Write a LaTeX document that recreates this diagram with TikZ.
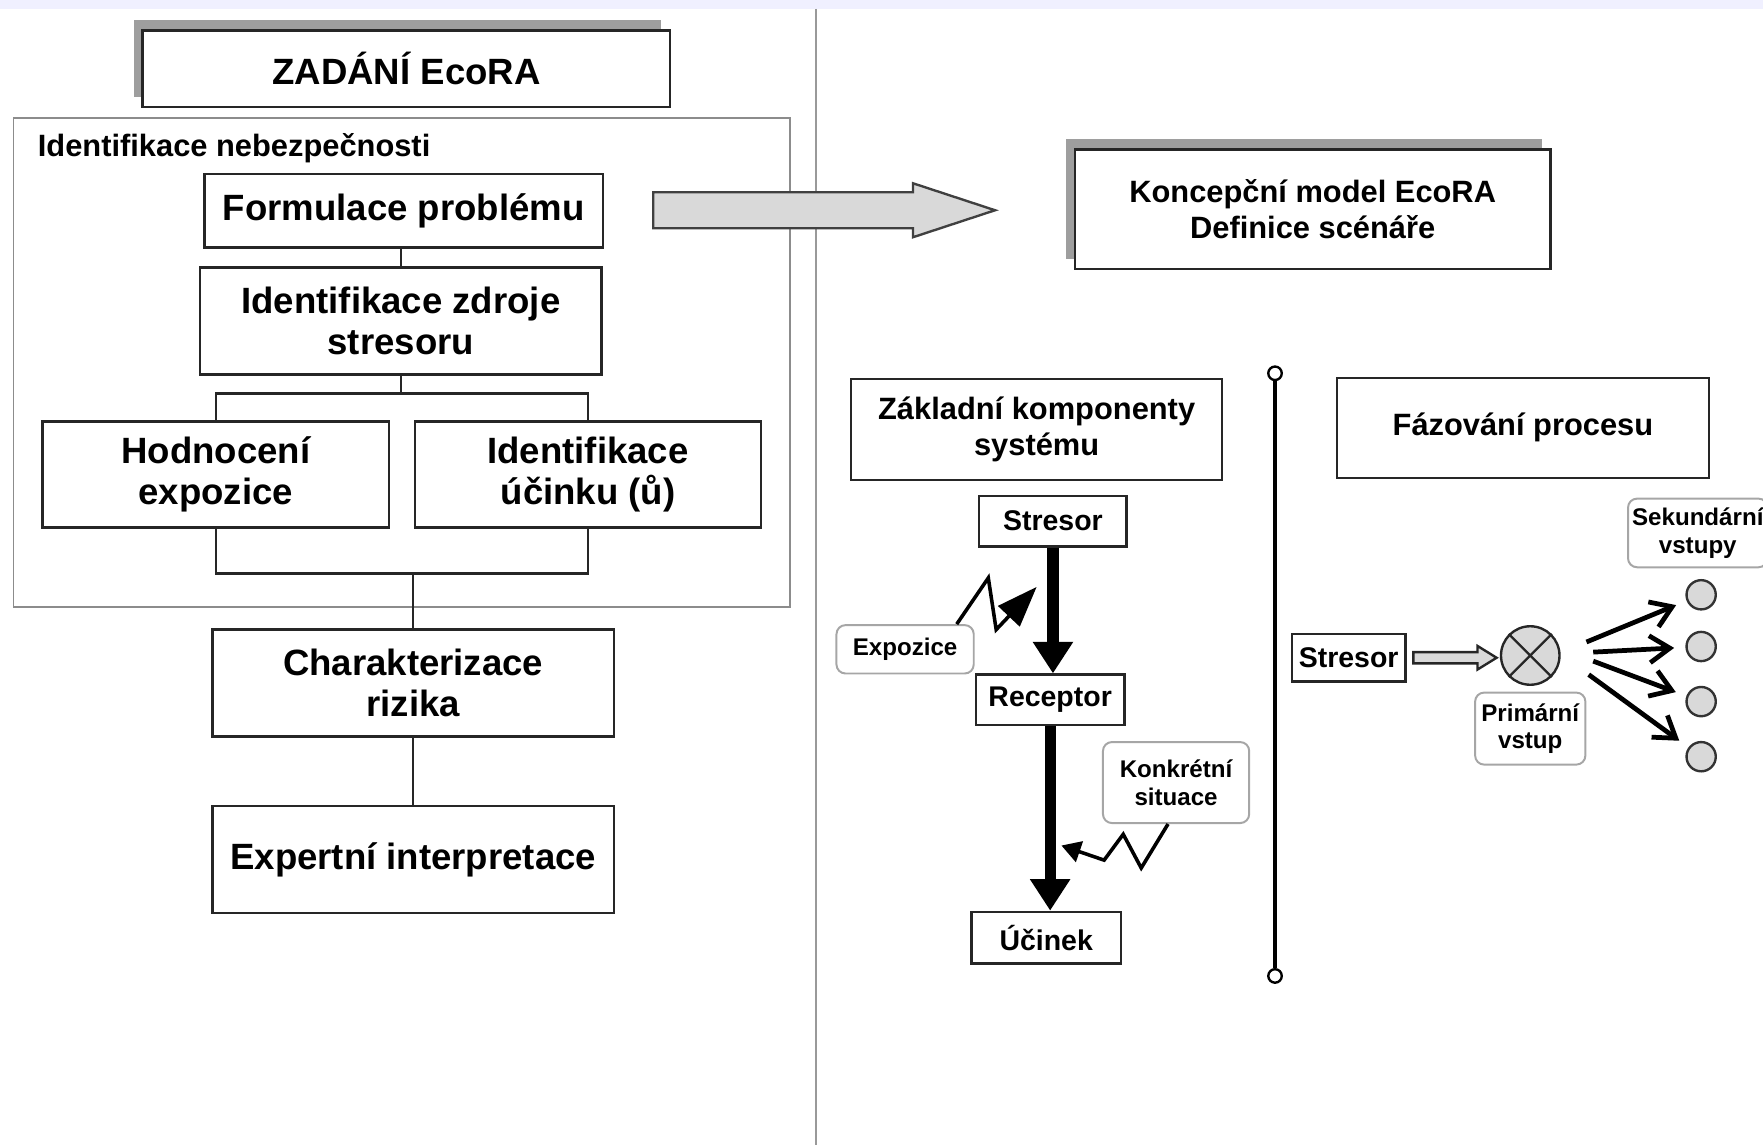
\documentclass[tikz,border=0pt]{standalone}
\usepackage{fontspec}
\setmainfont{Liberation Sans}
\usetikzlibrary{positioning, shadows, arrows.meta}

\begin{document}
\begin{tikzpicture}[x=0.01cm,y=-0.01cm,
		box/.style = {draw=black!85, line width=0.6pt, fill=white, inner sep=0pt, align=center,
			font=\fontsize{9.25}{10.5}\selectfont\bfseries},
		midbox/.style = {box, font=\fontsize{7.8}{9.1}\selectfont\bfseries},
		smallbox/.style = {box, font=\fontsize{7.2}{8.4}\selectfont\bfseries},
		shadowbox/.style = {drop shadow={shadow xshift=-0.08cm, shadow yshift=0.09cm, fill=black!38, opacity=1}},
		callout/.style = {draw=black!35, line width=0.5pt, rounded corners=0.08cm, fill=white, inner sep=0pt,
			align=center, font=\fontsize{6.1}{7.0}\selectfont\bfseries},
		flow/.style = {black!85, line width=0.6pt},
		bigflow/.style = {line width=0.1cm, -{Triangle[length=0.28cm,width=0.34cm]}},
		zig/.style = {line width=0.9pt},
		fan/.style = {line width=1.2pt, shorten >=0.1cm, -{Straight Barb[length=0.18cm,width=0.24cm]}},
		dot/.style = {circle, draw=black!80, line width=0.6pt, fill=black!15, minimum size=0.26cm, inner sep=0pt}]
	\useasboundingbox (0,0) rectangle (1568,1018);
	\clip (0,0) rectangle (1568,1018);
	% pale slide header and dividing line
	\fill[blue!6] (0,0) rectangle (1568,8);
	\draw[black!40, line width=0.5pt] (726,8) -- (726,1018);

	% left panel
	\node [box, shadowbox, minimum width=4.69cm, minimum height=0.68cm] (zadani) at (361.5,61) {ZADÁNÍ EcoRA};
	\draw[black!45, line width=0.5pt] (12,105) rectangle (703,540);
	\node [anchor=west, inner sep=0pt, font=\fontsize{7.8}{9}\selectfont\bfseries] (hazard) at (33,132) {Identifikace nebezpečnosti};
	\node [box, minimum width=3.54cm, minimum height=0.65cm] (formulace) at (359,187.5) {Formulace problému};
	\node [box, minimum width=3.57cm, minimum height=0.95cm] (zdroj) at (356.5,285.5) {Identifikace zdroje\\stresoru};
	\node [box, minimum width=3.08cm, minimum height=0.94cm] (hodnoceni) at (192,422) {Hodnocení\\expozice};
	\node [box, minimum width=3.08cm, minimum height=0.94cm] (identucinek) at (523,422) {Identifikace\\účinku (ů)};
	\node [box, minimum width=3.57cm, minimum height=0.95cm] (riziko) at (367.5,607.5) {Charakterizace\\rizika};
	\node [box, minimum width=3.57cm, minimum height=0.95cm] (expert) at (367.5,764.5) {Expertní interpretace};
	\coordinate (split) at (356.5,350);
	\coordinate (join) at (367.5,510);
	\draw[flow] (zdroj.north) -- (zdroj.north |- formulace.south);
	\draw[flow] (zdroj) -- (split);
	\draw[flow] (hodnoceni.north) |- (split) -| (identucinek.north);
	\draw[flow] (hodnoceni.south) |- (join) -| (identucinek.south);
	\draw[flow] (join) -- (riziko.north);
	\draw[flow] (riziko) -- (expert);

	% block arrow to the concept model
	\draw[black!75, line width=0.6pt, fill=black!15]
		(581,171) -- (812,171) -- (812,163) -- (885,187) -- (812,211) -- (812,203) -- (581,203) -- cycle;

	% right panel
	\node [midbox, shadowbox, minimum width=4.23cm, minimum height=1.06cm] (koncept) at (1167.5,186) {Koncepční model EcoRA\\Definice scénáře};
	\node [midbox, minimum width=3.30cm, minimum height=0.90cm] (zakladni) at (922,382) {Základní komponenty\\systému};
	\node [midbox, minimum width=3.31cm, minimum height=0.89cm] (fazovani) at (1354.5,380.5) {Fázování procesu};
	\node [circle, draw, line width=0.6pt, fill=white, minimum size=0.12cm, inner sep=0pt] (bartop) at (1134,332) {};
	\node [circle, draw, line width=0.6pt, fill=white, minimum size=0.12cm, inner sep=0pt] (barbot) at (1134,868) {};
	\draw[line width=1.1pt] (bartop) -- (barbot);

	% system components
	\node [smallbox, minimum width=1.31cm, minimum height=0.45cm] (stresor) at (936.5,463.5) {Stresor};
	\node [smallbox, minimum width=1.32cm, minimum height=0.45cm] (receptor) at (934,622.5) {Receptor};
	\node [smallbox, minimum width=1.33cm, minimum height=0.46cm] (ucinek) at (930.5,834) {Účinek};
	\draw[bigflow] (stresor.south) -- (stresor.south |- receptor.north);
	\draw[bigflow] (receptor.south) -- (receptor.south |- ucinek.north);
	\node [callout, minimum width=1.22cm, minimum height=0.43cm] (expozice) at (805,577.5) {Expozice};
	\node [callout, minimum width=1.30cm, minimum height=0.72cm] (situace) at (1046,696) {Konkrétní\\situace};
	\coordinate (hitexp) at (922,522);
	\coordinate (hitsit) at (944,752);
	\draw[zig, -{Triangle[length=0.36cm,width=0.26cm]}] (expozice.26) -- (879,514) -- (886,560) -- (hitexp);
	\draw[zig, -{Triangle[length=0.17cm,width=0.19cm]}] (situace.259) -- (1015,772) -- (999,742) -- (982,765) -- (hitsit);

	% process phases
	\node [smallbox, minimum width=1.01cm, minimum height=0.42cm] (stresorb) at (1199.5,585) {Stresor};
	\node [circle, draw=black!85, line width=0.6pt, fill=black!15, minimum size=0.52cm, inner sep=0pt] (primkruh) at (1361,583) {};
	\draw[black!85, line width=0.6pt, fill=black!15, shift={(stresorb.east)}]
		(6,-5) -- (63,-5) -- (63,-10.5) -- (80,0) -- (63,10.5) -- (63,5) -- (6,5) -- cycle;
	\draw[black!85, line width=0.6pt] (primkruh.45) -- (primkruh.225) (primkruh.135) -- (primkruh.315);
	\node [callout, minimum width=0.98cm, minimum height=0.64cm] (primarni) at (1361,648) {Primární\\vstup};
	\node [callout, minimum width=1.24cm, minimum height=0.61cm] (sekundarni) at (1510,474) {Sekundární\\vstupy};
	\foreach \i/\y in {1/529, 2/575, 3/624, 4/673}
		\node [dot] (kruh\i) at (1513,\y) {};
	\coordinate (from1) at (1411,571);
	\coordinate (from2) at (1417,580);
	\coordinate (from3) at (1417,588);
	\coordinate (from4) at (1413,600);
	\foreach \i in {1,...,4}
		\draw[fan] (from\i) -- (kruh\i);
\end{tikzpicture}
\end{document}
